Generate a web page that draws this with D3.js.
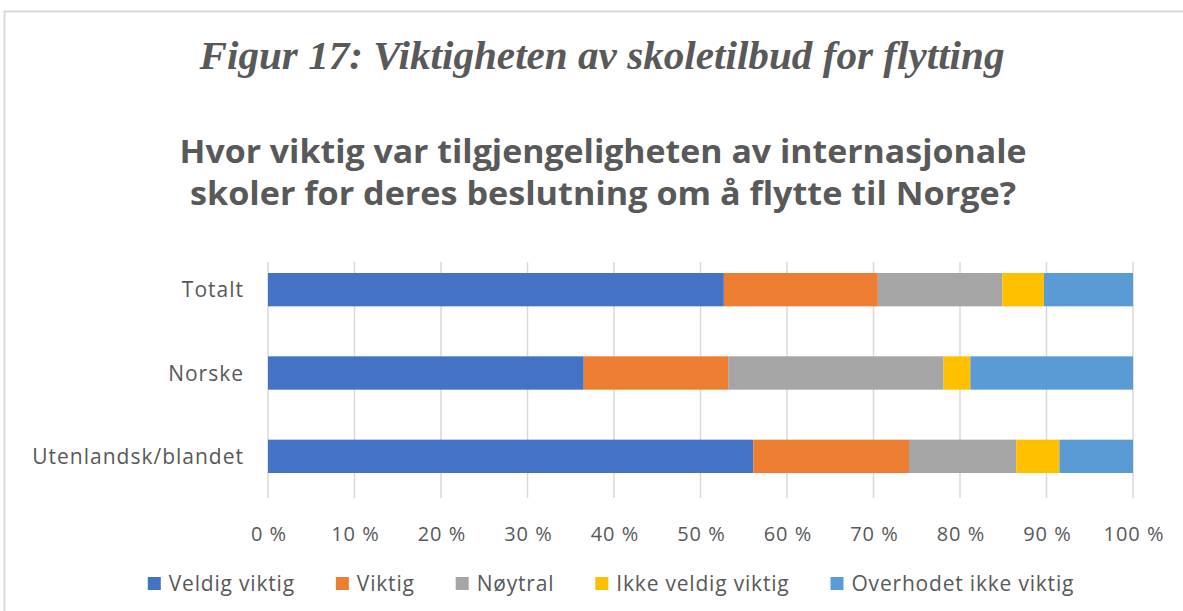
<!DOCTYPE html>
<html><head><meta charset="utf-8">
<script src="https://cdn.jsdelivr.net/npm/d3@7"></script>
<style>body{margin:0;background:#fff}svg{display:block}</style>
</head><body>
<svg id="c" width="1183" height="611"></svg>
<script>
const categories = ["Totalt", "Norske", "Utenlandsk/blandet"];
const seriesNames = ["Veldig viktig", "Viktig", "Nøytral", "Ikke veldig viktig", "Overhodet ikke viktig"];
const veldigViktig   = [52.7, 36.5, 56.1];
const viktig         = [17.8, 16.7, 18.0];
const noytral        = [14.4, 24.9, 12.4];
const ikkeVeldig     = [4.8, 3.1, 5.0];
const overhodetIkke  = [10.3, 18.8, 8.5];
const colors = ["#4472C4", "#ED7D31", "#A5A5A5", "#FFC000", "#5B9BD5"];
const ticks = [0,10,20,30,40,50,60,70,80,90,100];
const figTitle = "Figur 17: Viktigheten av skoletilbud for flytting";
const chartTitle = ["Hvor viktig var tilgjengeligheten av internasjonale", "skoler for deres beslutning om å flytte til Norge?"];

const svg = d3.select("#c");
const txt = "#595959";

// frame
svg.append("path").attr("d","M4.5,611 L4.5,11.5 L1183,11.5").attr("fill","none").attr("stroke","#d9d9d9").attr("stroke-width",2);

svg.append("text").attr("x",602).attr("y",69).attr("text-anchor","middle")
  .attr("font-family","'Liberation Serif', 'Times New Roman', serif").attr("font-style","italic").attr("font-weight","bold")
  .attr("font-size",40).attr("fill",txt).attr("textLength",805).attr("lengthAdjust","spacingAndGlyphs").text(figTitle);

chartTitle.forEach((t,i)=>{
  svg.append("text").attr("x",603).attr("y",163+i*42).attr("text-anchor","middle")
    .attr("font-family","'Open Sans', sans-serif").attr("font-weight","bold")
    .attr("font-size",33).attr("fill",txt).attr("textLength", i==0?847:826).attr("lengthAdjust","spacingAndGlyphs").text(t);
});

const x = d3.scaleLinear().domain([0,100]).range([268,1133]);
const y = d3.scaleBand().domain(categories).range([248,498]).paddingInner(0.6).paddingOuter(0.3);

// gridlines
svg.append("g").selectAll("line").data(ticks).join("line")
  .attr("x1",d=>x(d)).attr("x2",d=>x(d)).attr("y1",262).attr("y2",498)
  .attr("stroke","#d9d9d9").attr("stroke-width",1.5);

const table = categories.map((c,i)=>({cat:c, s0:veldigViktig[i], s1:viktig[i], s2:noytral[i], s3:ikkeVeldig[i], s4:overhodetIkke[i]}));
const keys = ["s0","s1","s2","s3","s4"];
const stacked = d3.stack().keys(keys)(table);

svg.append("g").selectAll("g").data(stacked).join("g").attr("fill",(d,i)=>colors[i])
  .selectAll("rect").data(d=>d).join("rect")
  .attr("x",d=>x(d[0])).attr("width",d=>x(d[1])-x(d[0]))
  .attr("y",d=>y(d.data.cat)).attr("height",y.bandwidth());

// category labels
svg.append("g").selectAll("text").data(categories).join("text")
  .attr("x",244).attr("y",d=>y(d)+y.bandwidth()/2).attr("dy","0.36em").attr("text-anchor","end")
  .attr("font-family","'Open Sans', sans-serif").attr("font-size",21).attr("letter-spacing",1).attr("fill",txt).text(d=>d);

// x axis labels
svg.append("g").selectAll("text").data(ticks).join("text")
  .attr("x",d=>x(d)+1).attr("y",541).attr("text-anchor","middle")
  .attr("font-family","'Open Sans', sans-serif").attr("font-size",20).attr("letter-spacing",1).attr("fill",txt).text(d=>d+" %");

// legend
const lg = svg.append("g");
const fs = 21;
let items = seriesNames.map((n,i)=>{
  const t = lg.append("text").attr("y",591).attr("font-family","'Open Sans', sans-serif").attr("font-size",fs).attr("letter-spacing",0.8).attr("fill",txt).text(n);
  return {t, w:t.node().getComputedTextLength(), i};
});
const sq = 13, gap = 8, itemGap = 41;
const total = d3.sum(items, d=>sq+gap+d.w) + itemGap*(items.length-1);
let cx = 611 - total/2;
items.forEach(d=>{
  lg.append("rect").attr("x",cx).attr("y",577).attr("width",sq).attr("height",sq).attr("fill",colors[d.i]);
  d.t.attr("x",cx+sq+gap);
  cx += sq+gap+d.w+itemGap;
});
</script>
</body></html>
